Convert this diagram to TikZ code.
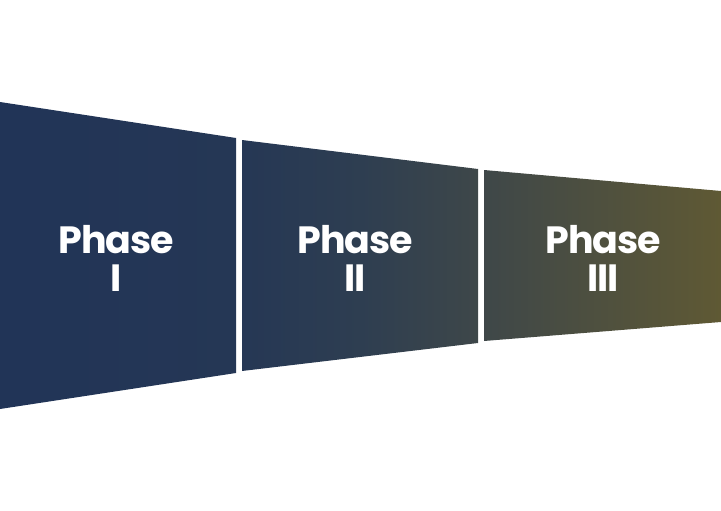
\documentclass[tikz,border=0pt]{standalone}
\usepackage{fontspec}
\newfontfamily\pop{Poppins}[LetterSpace=-3]
\definecolor{navyA}{RGB}{33,52,87}
\definecolor{navyB}{RGB}{37,55,85}
\definecolor{midC}{RGB}{46,62,81}
\definecolor{midD}{RGB}{62,71,73}
\definecolor{oliveE}{RGB}{95,89,52}
\pgfdeclarehorizontalshading{phases}{100bp}{%
  color(0bp)=(navyA);
  color(25bp)=(navyA);
  color(41.4bp)=(navyB);
  color(50bp)=(midC);
  color(58.3bp)=(midD);
  color(75bp)=(oliveE);
  color(100bp)=(oliveE)}
\tikzset{
  phasetext/.style={text=white, align=center, font=\pop\bfseries\fontsize{38}{38}\selectfont, inner sep=0pt}
}
\begin{document}
\begin{tikzpicture}[x=1pt,y=-1pt]
\useasboundingbox (0,0) rectangle (721,511);
\begin{scope}
\clip (0,102) -- (236,138) -- (236,373) -- (0,409) -- cycle
      (242,140) -- (478,169) -- (478,343) -- (242,371) -- cycle
      (484,170) -- (721,191) -- (721,322) -- (484,341) -- cycle;
\shade[shading=phases] (0,0) rectangle (721,511);
\end{scope}
\node[phasetext] (p1) at (116,258) {Phase\\I};
\node[phasetext] (p2) at (355,258) {Phase\\II};
\node[phasetext] (p3) at (603,258) {Phase\\III};
\end{tikzpicture}
\end{document}
